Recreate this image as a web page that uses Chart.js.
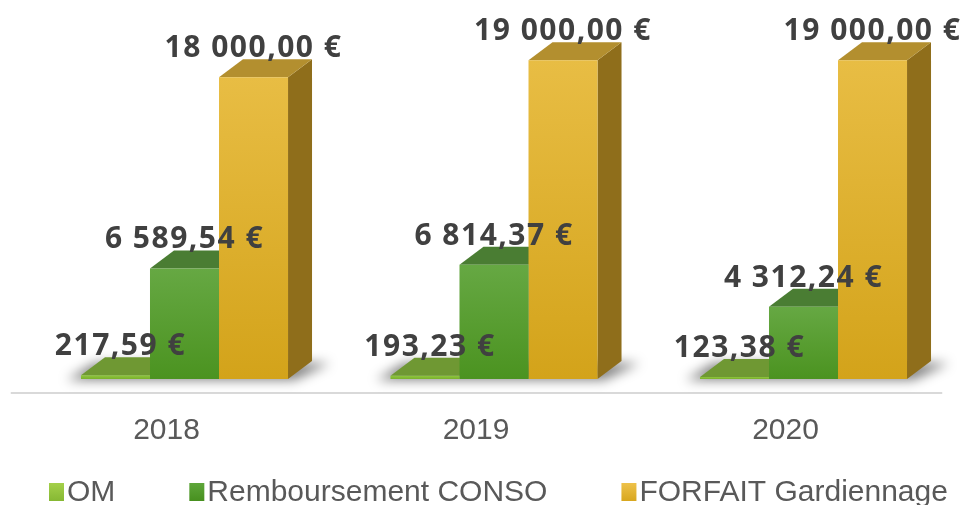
<!DOCTYPE html>
<html>
<head>
<meta charset="utf-8">
<script src="https://cdn.jsdelivr.net/npm/chart.js@4/dist/chart.umd.min.js"></script>
<style>
  html, body { margin: 0; padding: 0; background: #fff; }
</style>
</head>
<body>
<canvas id="chart" width="964" height="505"></canvas>
<script>
// chart data
var years = ['2018', '2019', '2020'];
var omValues = [217.59, 193.23, 123.38];
var consoValues = [6589.54, 6814.37, 4312.24];
var forfaitValues = [18000, 19000, 19000];
var seriesNames = ['OM', 'Remboursement CONSO', 'FORFAIT Gardiennage'];

// colours for each series: front gradient, top face, side face, legend key
var palette = [
  { hi: '#8fc73f', lo: '#79b02b', lid: '#6f9833', side: '#5b7f24', key: ['#a4d04a', '#86b833'] },
  { hi: '#66a843', lo: '#4b9320', lid: '#4a7d33', side: '#3b6a22', key: ['#5ea63a', '#47901f'] },
  { hi: '#e8bd44', lo: '#d3a31a', lid: '#b38f2f', side: '#8f6e1b', key: ['#eec24a', '#d8a71e'] }
];

var DX = 24, DY = -18; // depth of the 3D boxes

function euro(v) {
  var parts = v.toFixed(2).split('.');
  var whole = parts[0].replace(/\B(?=(\d{3})+(?!\d))/g, ' ');
  return whole + ',' + parts[1] + ' €';
}

// front face gradient, one per bar
function frontFill(i) {
  return function (c) {
    var chart = c.chart;
    if (!chart.chartArea || c.parsed == null) return palette[i].lo;
    var y = chart.scales.y;
    var top = y.getPixelForValue(c.parsed.y);
    var bottom = y.getPixelForValue(0);
    var g = chart.ctx.createLinearGradient(0, top, 0, bottom);
    g.addColorStop(0, palette[i].hi);
    g.addColorStop(1, palette[i].lo);
    return g;
  };
}

var bars3d = {
  id: 'bars3d',
  beforeDatasetsDraw: function (chart) {
    var ctx = chart.ctx;
    var base = chart.scales.y.getPixelForValue(0);
    var area = chart.chartArea;
    ctx.save();

    // floor edge
    ctx.strokeStyle = '#d9d9d9';
    ctx.lineWidth = 2;
    ctx.beginPath();
    ctx.moveTo(area.left - 19, base + 14);
    ctx.lineTo(area.right - 16, base + 14);
    ctx.stroke();

    // soft shadow under each group
    var first = chart.getDatasetMeta(0).data;
    var last = chart.getDatasetMeta(2).data;
    ctx.filter = 'blur(6px)';
    ctx.fillStyle = 'rgba(0,0,0,0.5)';
    first.forEach(function (bar, i) {
      var xl = bar.x - bar.width / 2;
      var xr = last[i].x + last[i].width / 2;
      ctx.beginPath();
      ctx.moveTo(xl - 14, base + 1);
      ctx.lineTo(xr + 6, base + 1);
      ctx.lineTo(xr + DX + 18, base + DY + 2);
      ctx.lineTo(xl + DX - 10, base + DY + 2);
      ctx.closePath();
      ctx.fill();
    });
    ctx.filter = 'none';

    // tops and sides
    chart.data.datasets.forEach(function (ds, d) {
      chart.getDatasetMeta(d).data.forEach(function (bar) {
        var x0 = bar.x - bar.width / 2, x1 = bar.x + bar.width / 2, y = bar.y;
        ctx.fillStyle = palette[d].side;
        ctx.beginPath();
        ctx.moveTo(x1, y);
        ctx.lineTo(x1 + DX, y + DY);
        ctx.lineTo(x1 + DX, base + DY);
        ctx.lineTo(x1, base);
        ctx.closePath();
        ctx.fill();

        ctx.fillStyle = palette[d].lid;
        ctx.beginPath();
        ctx.moveTo(x0, y);
        ctx.lineTo(x1, y);
        ctx.lineTo(x1 + DX, y + DY);
        ctx.lineTo(x0 + DX, y + DY);
        ctx.closePath();
        ctx.fill();
      });
    });
    ctx.restore();
  },
  afterDatasetsDraw: function (chart) {
    var ctx = chart.ctx;
    ctx.save();
    ctx.font = 'bold 30px "Open Sans"';
    ctx.letterSpacing = '1.5px';
    ctx.fillStyle = '#404040';
    ctx.textAlign = 'center';
    ctx.textBaseline = 'alphabetic';
    chart.data.datasets.forEach(function (ds, d) {
      chart.getDatasetMeta(d).data.forEach(function (bar, i) {
        ctx.fillText(euro(ds.data[i]), bar.x + (d === 0 ? 5 : 0), bar.y - 20);
      });
    });
    ctx.restore();
  },
  afterDraw: function (chart) {
    // legend along the bottom
    var ctx = chart.ctx;
    ctx.save();
    ctx.font = '30px "Liberation Sans"';
    ctx.textBaseline = 'alphabetic';
    ctx.textAlign = 'left';
    var x = 49, baseline = 501;
    seriesNames.forEach(function (name, i) {
      var g = ctx.createLinearGradient(0, 483, 0, 501);
      g.addColorStop(0, palette[i].key[0]);
      g.addColorStop(1, palette[i].key[1]);
      ctx.fillStyle = g;
      ctx.fillRect(x, 483, 15, 18);
      ctx.fillStyle = '#595959';
      ctx.fillText(name, x + 18, baseline);
      x += 18 + ctx.measureText(name).width + 74;
    });
    ctx.restore();
  }
};

new Chart(document.getElementById('chart'), {
  type: 'bar',
  data: {
    labels: years,
    datasets: [
      { label: seriesNames[0], data: omValues, backgroundColor: frontFill(0) },
      { label: seriesNames[1], data: consoValues, backgroundColor: frontFill(1) },
      { label: seriesNames[2], data: forfaitValues, backgroundColor: frontFill(2) }
    ]
  },
  options: {
    responsive: false,
    animation: false,
    layout: { padding: { left: 29.75, right: 5.75, top: 43.6, bottom: 22 } },
    datasets: { bar: { barPercentage: 1, categoryPercentage: 0.669 } },
    plugins: { legend: { display: false }, tooltip: { enabled: false } },
    scales: {
      x: {
        grid: { display: false, drawTicks: false },
        border: { display: false },
        ticks: {
          color: '#595959',
          font: { family: 'Liberation Sans', size: 30 },
          padding: 34,
          labelOffset: -18
        }
      },
      y: { display: false, min: 0, max: 20000 }
    }
  },
  plugins: [bars3d]
});
</script>
</body>
</html>
